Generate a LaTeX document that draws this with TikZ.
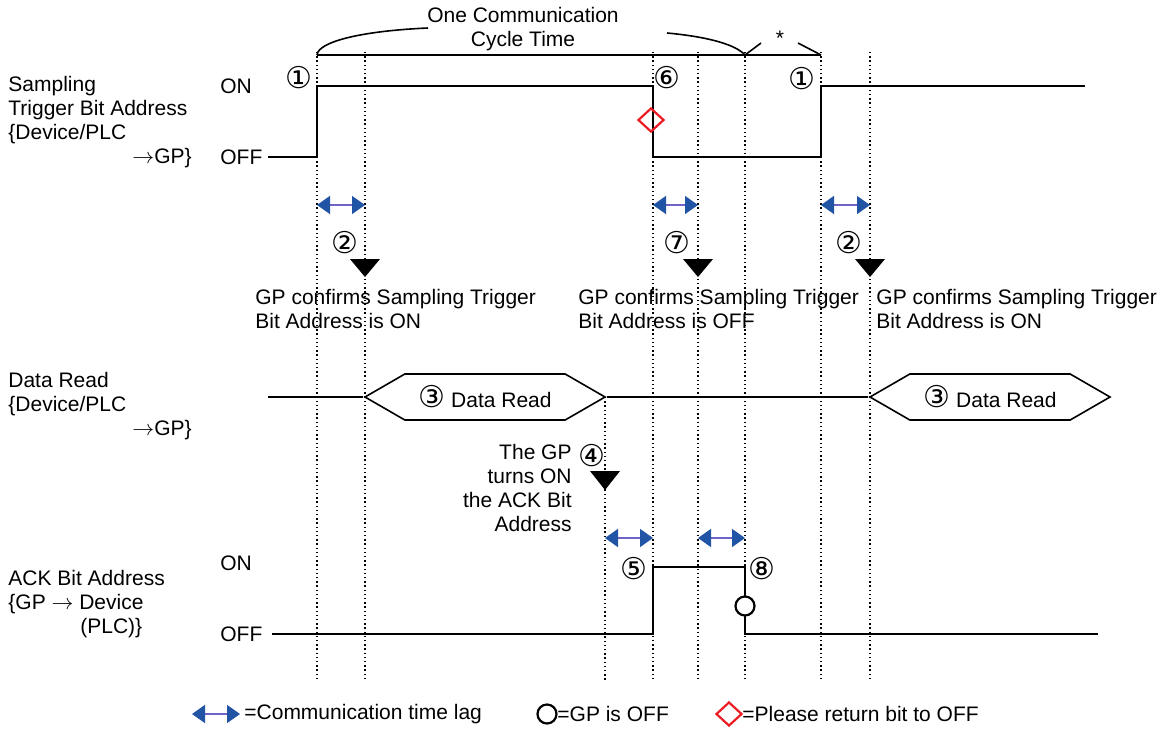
\documentclass[tikz,border=0pt]{standalone}
\usepackage{fontspec}
\setmainfont{Liberation Sans}
\newfontfamily\symfont{DejaVu Sans}
\usetikzlibrary{positioning,arrows.meta,shapes.geometric,shapes.symbols}

\definecolor{lagblue}{RGB}{34,84,166}
\definecolor{lagline}{RGB}{110,100,200}
\definecolor{retred}{RGB}{236,28,36}

\begin{document}
\begin{tikzpicture}[x=0.5pt, y=-0.5pt,
  every node/.style={font=\fontsize{10.5}{12}\selectfont, inner sep=0pt},
  num/.style={font=\symfont\fontsize{15}{15}\selectfont},
  sig/.style={line width=1pt},
  guide/.style={line width=0.7pt, dash pattern=on 0.7pt off 1.4pt},
  lag/.style={draw=lagline, line width=0.8pt, {Triangle[width=9pt,length=6.5pt,color=lagblue]}-{Triangle[width=9pt,length=6.5pt,color=lagblue]}},
  offdot/.style={circle, draw, line width=1.1pt, minimum size=9.5pt},
  retflag/.style={diamond, draw=retred, line width=1.1pt, minimum width=13pt, minimum height=12pt},
  readbox/.style={signal, draw, line width=0.8pt, signal to=west and east, signal pointer angle=60, minimum width=120pt, minimum height=23pt}
]
\useasboundingbox (0,0) rectangle (1176,729);

% guide lines
\foreach \x in {317,365,653,698,745,821,870}
  \draw[guide] (\x,52) -- (\x,680);
\draw[guide] (605,397) -- (605,680);

% cycle bracket
\node[align=center] (cycle) at (523,29) {One Communication\\Cycle Time};
\draw[line width=0.8pt] (317,55) -- (821,55);
\draw[line width=0.8pt] (317,55) .. controls (318,42) and (360,31) .. (428,28);
\draw[line width=0.8pt] (667,33) .. controls (710,37) and (736,45) .. (745,55);
\draw[line width=0.8pt] (745,55) -- (761,43);
\draw[line width=0.8pt] (798,43) -- (821,55);
\node (star) at (780,38) {*};

% sampling trigger bit
\node[align=left, anchor=north west] (samp) at (8,76)
  {Sampling\\Trigger Bit Address\\\{Device/PLC\\\hspace*{62pt}$\rightarrow$GP\}};
\node[anchor=west] (trgOn) at (220,86) {ON};
\node[anchor=west] (trgOff) at (220,157) {OFF};
\draw[sig] (268,157) -- (317,157) -- (317,86) -- (653,86) -- (653,157)
  -- (821,157) -- (821,86) -- (1085,86);
\node[num] (n1a) at (299,78) {①};
\node[num] (n6) at (667,78) {⑥};
\node[num] (n1b) at (802,79) {①};
\node[retflag] (ret) at (651,120) {};

% time lags
\draw[lag] (317,205) -- (365,205);
\draw[lag] (653,205) -- (698,205);
\draw[lag] (821,205) -- (870,205);
\draw[lag] (605,538) -- (653,538);
\draw[lag] (698,538) -- (745,538);

% confirm markers
\foreach \x in {365,698,870}
  \fill (\x-15,259) -- (\x+15,259) -- (\x,277) -- cycle;
\node[num] (n2a) at (345,243) {②};
\node[num] (n7) at (677,243) {⑦};
\node[num] (n2b) at (849,243) {②};
\node[align=left, anchor=north west] (conf1) at (255,289)
  {GP confirms Sampling Trigger\\Bit Address is ON};
\node[align=left, anchor=north west] (conf2) at (578,289)
  {GP confirms Sampling Trigger\\Bit Address is OFF};
\node[align=left, anchor=north west] (conf3) at (876,289)
  {GP confirms Sampling Trigger\\Bit Address is ON};

% data read
\node[align=left, anchor=north west] (data) at (8,372)
  {Data Read\\\{Device/PLC\\\hspace*{62pt}$\rightarrow$GP\}};
\node[readbox] (read1) at (485,397) {{\symfont\fontsize{15}{15}\selectfont ③} Data Read};
\node[readbox] (read2) at (990,397) {{\symfont\fontsize{15}{15}\selectfont ③} Data Read};
\draw[sig] (268,397) -- (read1.west);
\draw[sig] (read1.east) -- (read2.west);
\fill (590,471) -- (620,471) -- (605,490) -- cycle;
\node[num] (n4) at (592,456) {④};
\node[align=right, anchor=north east] (ackon) at (572,444)
  {The GP\\turns ON\\the ACK Bit\\Address};

% ACK bit
\node[align=left, anchor=north west] (ack) at (8,570)
  {ACK Bit Address\\\{GP $\rightarrow$ Device\\\hspace*{36pt}(PLC)\}};
\node[anchor=west] (ackOn) at (220,563) {ON};
\node[anchor=west] (ackOff) at (220,634) {OFF};
\draw[sig] (272,634) -- (653,634) -- (653,567) -- (745,567) -- (745,634) -- (1098,634);
\node[num] (n5) at (634,569) {⑤};
\node[num] (n8) at (762,569) {⑧};
\node[offdot, fill=white] (off) at (745,606) {};

% legend
\draw[lag] (192,714) -- (240,714);
\node[anchor=west] (lg1) at (244,714) {=Communication time lag};
\node[offdot] (lgoff) at (547,714) {};
\node[anchor=west] (lg2) at (557,714) {=GP is OFF};
\node[retflag] (lgret) at (729,714) {};
\node[anchor=west] (lg3) at (742,714) {=Please return bit to OFF};
\end{tikzpicture}
\end{document}
